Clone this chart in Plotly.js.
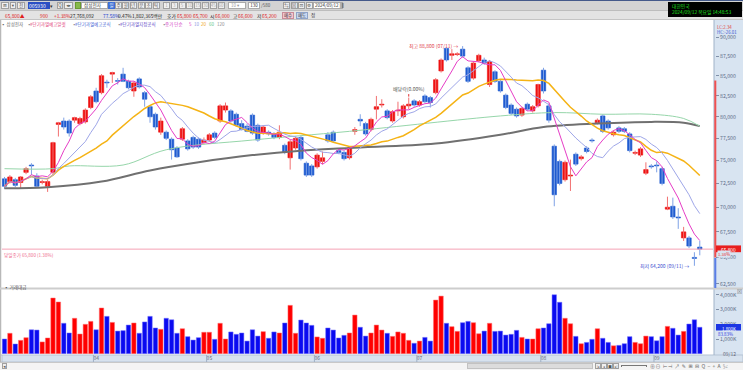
<!DOCTYPE html>
<html><head><meta charset="utf-8">
<script src="https://cdn.plot.ly/plotly-3.0.1.min.js"></script>
<style>
body{margin:0;width:743px;height:370px;overflow:hidden;background:#fff;position:relative;font-family:"Noto Sans CJK KR","DejaVu Sans",sans-serif}
#chart{position:absolute;left:0;top:0;width:743px;height:370px}
#ov{position:absolute;left:0;top:0;width:743px;height:370px;pointer-events:none}
.o{position:absolute;box-sizing:border-box;white-space:nowrap;font-size:5px;line-height:7px;color:#333}
.b{border:1px solid #a0a0a0;background:#efefef;text-align:center;font-size:4.5px;line-height:5px;color:#555}
</style></head>
<body>
<div id="chart"></div>
<div id="ov"></div>
<script>
// ---------------- data ----------------
const openP  = [73000,72700,72900,72600,73700,74500,73300,72600,72200,73700,79100,79500,79500,79600,79200,79400,81100,83100,82900,84200,85200,84400,85200,84300,83100,84600,82900,81200,80300,78200,78200,77400,76400,77400,77200,77600,77400,77000,77300,78100,79500,80800,80700,80300,79200,78900,80200,79000,78100,78200,78000,77600,76700,75300,76400,77600,74700,74400,74300,74900,77900,78200,76100,75900,75300,78300,79700,79200,78500,80900,81400,80700,79500,80700,80000,81300,81900,81400,82500,82300,82900,85600,88500,87600,87700,88400,86000,84700,86900,87000,83900,85500,84300,82600,81400,80900,80200,81500,80700,81300,85700,81300,76600,74900,72900,73300,75700,75200,76400,77300,79300,80100,79500,77900,78700,78600,78000,75800,75600,73600,74400,74500,74100,69800,70100,69000,66900,66900,65000,66000];
const highP  = [73200,73400,73100,73300,74300,74700,73600,72900,72900,77100,79400,79900,79700,80000,80000,81000,82600,83500,85200,84500,85500,84700,86000,84500,84300,84800,83100,81400,80500,79900,78400,77600,76600,78800,77400,77800,77600,77600,78100,78300,81500,81700,80900,80500,79600,79200,80400,79200,79000,78400,78200,79000,76900,77300,77700,77800,74900,74600,75800,76000,78200,78400,76300,76100,76600,78800,80300,79400,79900,82500,82100,80900,80800,81800,81500,82300,82100,82000,82700,82500,84700,87200,88600,88400,88000,88800,86200,86800,87800,87300,87000,85700,84500,82800,81600,81100,81200,81700,81400,84000,86000,81600,76800,75100,75000,75100,75900,75600,76600,77500,79800,80300,79700,78400,78900,78800,78200,76100,76500,74800,74600,74900,74300,71100,71000,69900,68000,67100,65500,66600];
const lowP   = [71900,72500,72100,72000,73500,73400,72100,72400,71600,73400,77700,78500,77700,79300,79000,79200,80900,81600,82700,83500,84100,83900,84200,83300,82400,83400,81200,79300,78500,77900,77300,75100,75300,77200,76100,76300,76300,76800,77100,77400,79300,80500,79300,78800,78400,78200,77900,77100,77900,77800,77400,77400,75700,74000,76200,75000,73200,73200,74100,74600,77000,77000,75700,75000,75100,77900,78900,77800,78300,79700,81100,79700,79300,80100,79800,80900,81200,81200,81600,81100,82700,85400,86800,87000,87500,87300,84100,84500,86700,86400,83600,84100,82900,80900,80200,79900,80000,80700,80500,81100,82800,79300,70100,72300,72700,71700,74400,75000,75800,77000,79100,78100,78500,77700,78100,78100,75900,75600,75400,73400,74100,73700,72300,69700,68800,67800,66600,65900,64200,65200];
const closeP = [72200,73200,72300,73200,74100,74400,72200,72700,72700,77000,79300,78800,78100,79900,79800,80800,82400,81800,85000,84100,85400,84300,84300,83500,84100,83600,82100,80000,78800,79500,77500,76200,75400,78600,76300,76500,76500,77300,77900,77600,81300,81300,79500,79000,78500,78300,78100,77300,78800,78000,77600,78200,75900,77100,77500,75200,73400,73400,75600,75300,77200,77200,75900,75200,76400,78500,79500,78000,79700,81200,81500,79900,80600,80800,81300,81500,81400,81800,81800,81700,84500,87000,87000,87800,87800,87500,84300,86600,87600,86600,86800,84300,83100,81100,80400,80100,81000,80900,81200,83900,83100,79600,71300,72500,74800,73400,74600,75400,76000,77200,79600,78300,78700,78200,78300,78300,76100,75900,76300,74000,74300,74400,72500,70000,69000,68900,67500,66100,64900,65800];
const volumeK = [1000,1390,660,910,1090,1630,1610,800,1070,3790,3520,2070,1410,2410,1340,2000,2200,1630,3110,2540,2130,1540,1570,1950,2090,1390,2160,2540,1750,1660,2410,2310,1390,1700,1160,930,1090,1460,1460,980,2070,1000,1480,1320,1410,860,1630,1200,1500,1050,1480,1410,2090,3290,1390,2290,2090,1930,1140,1050,1750,1610,1070,1250,1410,2630,1800,1200,1410,1950,1610,1390,1180,1480,1390,910,710,860,1110,860,3650,3920,2070,1840,1520,2110,2200,2110,1360,1540,2070,1520,1540,1270,1320,1590,1110,1000,1000,1700,1750,2040,4010,3500,2410,2040,1180,680,770,980,1700,1050,770,540,570,680,1160,770,680,1200,1160,880,1160,1860,1730,1270,1520,2020,2310,1800];
const ma60Idx  = [0,9,12,22,30,46,64,92,102,111,120,126,129];
const ma60Val  = [74100,74100,74400,74500,76200,77300,78300,80100,80500,80300,80300,79800,78900];
const ma120Idx = [0,8,18,27,36,46,55,64,80,92,100,110,120,126,129];
const ma120Val = [72000,72100,72700,73900,74800,75600,76100,76400,76900,77900,78800,79200,79400,79300,78900];
const monthTickIdx  = [-0.5,16.5,37.5,57.5,76.5,99.5,120.5];
const monthTickText = ['2024/03','04','05','06','07','08','09'];
const priceTicks = [62500,65000,67500,70000,72500,75000,77500,80000,82500,85000,87500,90000];
const volTicks = [1000,2000,3000,4000];
const highMark = {idx:85, price:88800, text:'최고 88,800 (07/11) →'};
const lowMark  = {idx:128, price:64200, text:'최저 64,200 (09/11) →'};
const divMark  = {idx:75, price:82300, text:'배당락(0.00%)'};

// ---------------- helpers ----------------
const N = closeP.length;
const idx = closeP.map((_,i)=>i);
const H = 370, W = 743;
const py = p => (H-p)/H, px = p => p/W;
const fmt = v => v.toLocaleString('en-US');
function sma(a,n){return a.map((_,i)=>{const s=Math.max(0,i-n+1);let t=0;for(let k=s;k<=i;k++)t+=a[k];return t/(i-s+1);});}
const up = closeP.map((c,i)=>c>openP[i]);
const RED='#ee1111', BLUE='#1f5bd0';
const bodyColor = up.map(u=>u?RED:BLUE);
const volColor = up.map(u=>u?'#ff0000':'#0a0af0');
function wick(sel,color){const x=[],y=[];idx.forEach(i=>{if(sel(i)){x.push(i,i,null);y.push(lowP[i],highP[i],null);}});
 return {type:'scatter',mode:'lines',x,y,xaxis:'x',yaxis:'y',line:{color,width:1},hoverinfo:'skip',connectgaps:false};}

const traces = [
 wick(i=>up[i],'#f27070'), wick(i=>!up[i],'#7fa2e6'),
 {type:'bar',x:idx,base:idx.map(i=>Math.min(openP[i],closeP[i])),y:idx.map(i=>Math.abs(closeP[i]-openP[i])),
  width:0.82,xaxis:'x',yaxis:'y',marker:{color:bodyColor,line:{color:bodyColor,width:0.6}},hoverinfo:'skip'},
 {type:'scatter',mode:'lines',x:ma120Idx,y:ma120Val,line:{color:'#707070',width:2,shape:'spline'},xaxis:'x',yaxis:'y'},
 {type:'scatter',mode:'lines',x:ma60Idx,y:ma60Val,line:{color:'#96d6aa',width:1,shape:'spline'},xaxis:'x',yaxis:'y'},
 {type:'scatter',mode:'lines',x:idx,y:sma(closeP,20),line:{color:'#f5b315',width:1.5},xaxis:'x',yaxis:'y'},
 {type:'scatter',mode:'lines',x:idx,y:sma(closeP,10),line:{color:'#9ea6e8',width:1},xaxis:'x',yaxis:'y'},
 {type:'scatter',mode:'lines',x:idx,y:sma(closeP,5),line:{color:'#e63cc6',width:1},xaxis:'x',yaxis:'y'},
 {type:'bar',x:idx,y:volumeK,width:0.82,xaxis:'x',yaxis:'y2',marker:{color:volColor,line:{color:up.map(u=>u?'#ff7070':'#7070ff'),width:0.5}},hoverinfo:'skip'}
];

const last = N-1;
const r0 = -0.464, r1 = 131.45;
const FONT = '"Noto Sans CJK KR","DejaVu Sans",sans-serif';
const shapes = [
 {type:'rect',xref:'paper',yref:'paper',x0:px(714),x1:1,y0:py(355),y1:py(20),fillcolor:'#d8e4f1',line:{width:0},layer:'below'},
 {type:'rect',xref:'paper',yref:'paper',x0:0,x1:1,y0:py(362),y1:py(355),fillcolor:'#d7e2ee',line:{color:'#b5c3d3',width:1},layer:'below'},
 {type:'line',xref:'paper',yref:'paper',x0:px(714),x1:px(714),y0:py(355),y1:py(20),line:{color:'#9fb2c8',width:1}},
 {type:'line',xref:'paper',yref:'paper',x0:px(0.5),x1:px(0.5),y0:py(362),y1:py(20),line:{color:'#b8b8b8',width:1.5}},
 {type:'line',xref:'paper',yref:'paper',x0:0,x1:1,y0:py(288.5),y1:py(288.5),line:{color:'#cdcdcd',width:2}},
 {type:'line',xref:'x domain',yref:'y',x0:0,x1:1,y0:closeP[last],y1:closeP[last],line:{color:'#f5a2b4',width:1}},
 {type:'line',xref:'paper',yref:'y',x0:px(715.3),x1:px(715.3),y0:65000,y1:84400,line:{color:'#f05050',width:2}},
 {type:'line',xref:'paper',yref:'paper',x0:px(715.3),x1:px(715.3),y0:py(288),y1:py(258),line:{color:'#5a7ee6',width:2}},
 {type:'rect',xref:'paper',yref:'y',x0:px(716),x1:px(741),y0:closeP[last]*0.9955,y1:closeP[last]*1.0055,fillcolor:'#e81e1e',line:{width:0}},
 {type:'rect',xref:'paper',yref:'y2',x0:px(716),x1:px(741),y0:volumeK[last]-220,y1:volumeK[last]+220,fillcolor:'#1c36e4',line:{width:0}}
];
monthTickIdx.forEach(v=>shapes.push({type:'line',xref:'x',yref:'paper',x0:v,x1:v,y0:py(362),y1:py(355),line:{color:'#9fb0c4',width:1}}));

const ann = [
 {x:highMark.idx,y:Math.log10(highMark.price),xref:'x',yref:'y',text:highMark.text,showarrow:false,xanchor:'right',xshift:-3,font:{size:5,color:'#e0404a',family:FONT}},
 {x:lowMark.idx,y:Math.log10(lowMark.price),xref:'x',yref:'y',text:lowMark.text,showarrow:false,xanchor:'right',xshift:-3,font:{size:5,color:'#3d4fd0',family:FONT}},
 {x:divMark.idx,y:Math.log10(divMark.price),xref:'x',yref:'y',text:divMark.text,showarrow:true,ax:0,ay:-9,arrowcolor:'#e03030',arrowwidth:1,arrowhead:0,standoff:1,font:{size:5,color:'#555',family:FONT}},
 {x:px(2),y:Math.log10(closeP[last]),xref:'paper',yref:'y',text:'당일종가 65,800 (1.38%)',showarrow:false,xanchor:'left',yanchor:'top',yshift:-1,font:{size:4.6,color:'#ee6a8c',family:FONT}},
 {x:px(728.5),y:Math.log10(closeP[last]),xref:'paper',yref:'y',text:fmt(closeP[last]),showarrow:false,xanchor:'center',borderpad:0,font:{size:4.8,color:'#fff',family:FONT}},
 {x:px(717),y:Math.log10(closeP[last]),xref:'paper',yref:'y',yshift:-5,xanchor:'left',text:'1.38%',showarrow:false,borderpad:0,bgcolor:'#d8e4f1',font:{size:4.2,color:'#e83030',family:FONT}},
 {x:px(728.5),y:volumeK[last],xref:'paper',yref:'y2',yshift:-1.5,text:fmt(volumeK[last])+'K',showarrow:false,xanchor:'center',borderpad:0,font:{size:4.4,color:'#fff',family:FONT}},
 {x:px(717),y:volumeK[last],xref:'paper',yref:'y2',yshift:-6.5,xanchor:'left',text:'83.83%',showarrow:false,borderpad:0,font:{size:4.4,color:'#3040e0',family:FONT}},
 {x:px(721),y:py(358.5),xref:'paper',yref:'paper',text:'09/12',showarrow:false,xanchor:'left',font:{size:5,color:'#667',family:FONT}},
 {x:px(2),y:py(292.5),xref:'paper',yref:'paper',text:'▪ 거래대금',showarrow:false,xanchor:'left',font:{size:4.6,color:'#555',family:FONT}},
 {x:px(716),y:py(22.5),xref:'paper',yref:'paper',text:'LC:2.34',showarrow:false,xanchor:'left',borderpad:0,font:{size:4.4,color:'#e04040',family:FONT}},
 {x:px(716),y:py(27.5),xref:'paper',yref:'paper',text:'HC:-26.01',showarrow:false,xanchor:'left',borderpad:0,font:{size:4.4,color:'#3050d0',family:FONT}},
 {x:px(739),y:py(296),xref:'paper',yref:'paper',text:'⊠',showarrow:false,xanchor:'center',font:{size:5,color:'#777',family:FONT}}
];

const axY = {showgrid:false,zeroline:false,showline:false,side:'right',anchor:'free',position:px(715),ticks:'outside',ticklen:3,tickcolor:'#8090a8',tickfont:{size:5.2,color:'#5d6c88',family:FONT},fixedrange:true};
const layout = {
 width:W,height:H,margin:{l:0,r:0,t:0,b:0},paper_bgcolor:'rgba(0,0,0,0)',plot_bgcolor:'rgba(0,0,0,0)',
 showlegend:false,barmode:'overlay',hovermode:false,font:{family:FONT},
 xaxis:{domain:[px(2),px(713)],range:[r0,r1],anchor:'y2',showgrid:false,zeroline:false,showline:false,
   tickmode:'array',tickvals:monthTickIdx,ticktext:monthTickText,ticks:'',ticklabelposition:'outside right',
   tickfont:{size:5,color:'#667',family:FONT},fixedrange:true},
 yaxis:Object.assign({},axY,{domain:[py(288),py(20)],type:'log',range:[Math.log10(62131),Math.log10(92288)],tickmode:'array',tickvals:priceTicks,ticktext:priceTicks.map(fmt)}),
 yaxis2:Object.assign({},axY,{domain:[py(354),py(290)],range:[-20,4334],tickmode:'array',tickvals:volTicks,ticktext:volTicks.map(v=>fmt(v)+'K')}),
 shapes, annotations:ann
};
Plotly.newPlot('chart',traces,layout,{staticPlot:true,displayModeBar:false});

// ---------------- window chrome (HTML text) ----------------
const ov=document.getElementById('ov');
function el(x,y,w,h,txt,css,cls){const d=document.createElement('div');d.className=cls||'o';d.style.cssText=`left:${x}px;top:${y}px;`+(w?`width:${w}px;`:'')+(h?`height:${h}px;`:'')+(css||'');d.textContent=txt||'';ov.appendChild(d);return d;}
el(0,0,743,11,'','background:#d3d3d3;border-top:1px solid #44598a;border-bottom:1px solid #bdbdbd');
el(0,11,743,9,'','background:#e3e3e3;border-bottom:1px solid #c4c4c4');
// row 1
el(1,2,8,7,'⊞','', 'o b'); el(10,2,6,7,'▾','','o b'); el(17,2,8,7,'전','','o b');
el(28,2,22,7,'005930','background:#2b4fc4;color:#fff;font-size:5px;line-height:7px;padding-left:1px');
el(50,2,5,7,'▾','font-size:5px'); el(57,2,6,7,'Q','','o b'); el(64,2,9,7,'◂▸','','o b');
el(75,2,6,7,'','background:#86b94a;border:1px solid #6a9a30');
el(81,2,27,7,'삼성전자','background:#fff;border:1px solid #a8a8a8;font-size:4.6px;line-height:5px;padding-left:2px');
el(108,2,7,7,'일','background:#3d6fd6;color:#fff;text-align:center;font-size:4.5px;line-height:7px');
['주','월','년','분','초','틱'].forEach((t,k)=>el(115+k*7.3+(k>2?1:0),2,7,7,t,'','o b'));
['1','3','5','10','15','30','45','60'].forEach((t,k)=>el(163+k*7.8,2,7,7,t,'color:#aaa','o b'));
el(228,2,18,7,'10 ▾','background:#fff;border:1px solid #aaa;font-size:4.5px;line-height:5px;padding-left:2px;color:#999');
el(248,2,12,7,'130','background:#fff;border:1px solid #aaa;font-size:4.5px;line-height:5px;text-align:center');
el(261,2,null,7,'/580','font-size:4.5px;line-height:7px;color:#555');
['⇆','⊠','⊡','⚙'].forEach((t,k)=>el(283+k*7.5,2,7,7,t,'','o b'));
el(313,2,30,7,'2024/09/12 ▦','background:#fff;border:1px solid #aaa;font-size:4.5px;line-height:5px;padding-left:1px');
el(668,2,74,15,'','background:#000');
el(672,3,null,6,'대한민국','color:#1fe01f;font-size:4.8px;line-height:6px');
el(672,9,null,6,'2024/09/12 목요일 14:48:53','color:#1fe01f;font-size:4.8px;line-height:6px');
// row 2
const r2=[[5,'65,800▲','#e02020'],[40,'900','#e02020'],[54,'+1.38%','#e02020'],[70,'27,768,092','#222'],[103,'77.58%','#2040d0'],[118,'0.47%','#222'],[132,'1,802,365백만','#222'],[167,'호가','#222'],[177,'65,800','#e02020'],[193,'65,700','#e02020'],[210,'시','#222'],[215,'66,000','#e02020'],[233,'고','#222'],[238,'66,600','#e02020'],[257,'저','#222'],[262,'65,200','#e02020']];
r2.forEach(a=>el(a[0],12,null,7,a[1],'color:'+a[2]+';font-size:4.8px;line-height:7px'));
el(282,12,12,7,'매수','background:#f3c6cf;border:1px solid #c98c98;font-size:4.4px;line-height:5px;text-align:center;color:#333');
el(296,12,12,7,'매도','background:#c8d8f2;border:1px solid #8fa3c8;font-size:4.4px;line-height:5px;text-align:center;color:#333');
el(311,12,null,7,'정','font-size:4.6px');
// legend row
const lg=[[1,'▪ 삼성전자','#666'],[27,'▪','#888'],[30,'#단기과열예고알럿','#e2427a'],[72,'▪','#888'],[75,'#단기과열예고공식','#3f5fd4'],[117,'▪','#888'],[120,'#단기과열지정공식','#5b3fc6'],[162,'▪','#888'],[165,'종가 단순','#d43ec4'],[189,'5','#e03cc6'],[194,'10','#8e96e2'],[201,'20','#f0a520'],[209,'60','#66c486'],[217,'120','#8c8c8c']];
lg.forEach(a=>el(a[0],21,null,7,a[1],'color:'+a[2]+';font-size:4.5px;line-height:7px'));
// bottom bar
el(0,362,743,8,'','background:#f4f4f4;border-top:1px solid #c8c8c8');
el(2,363,5,6,'◂','','o b');
el(467,363,126,6,'','background:#dcdcdc;border:1px solid #c2c2c2');
['|◂','◂','■','▸|'].forEach((t,k)=>el(595+k*6,363,6,6,t,'font-size:3.5px','o b'));
el(621,365,26,2,'','border-top:1px solid #777;border-left:1px solid #777;border-right:1px solid #777');
el(650,362,null,7,'⊕⊖ ⊢⊣ ↗ ✎ ⊞ ⊟ Q − + A ✂','font-size:5px;line-height:7px;color:#666;letter-spacing:0.6px');
</script>
</body></html>
